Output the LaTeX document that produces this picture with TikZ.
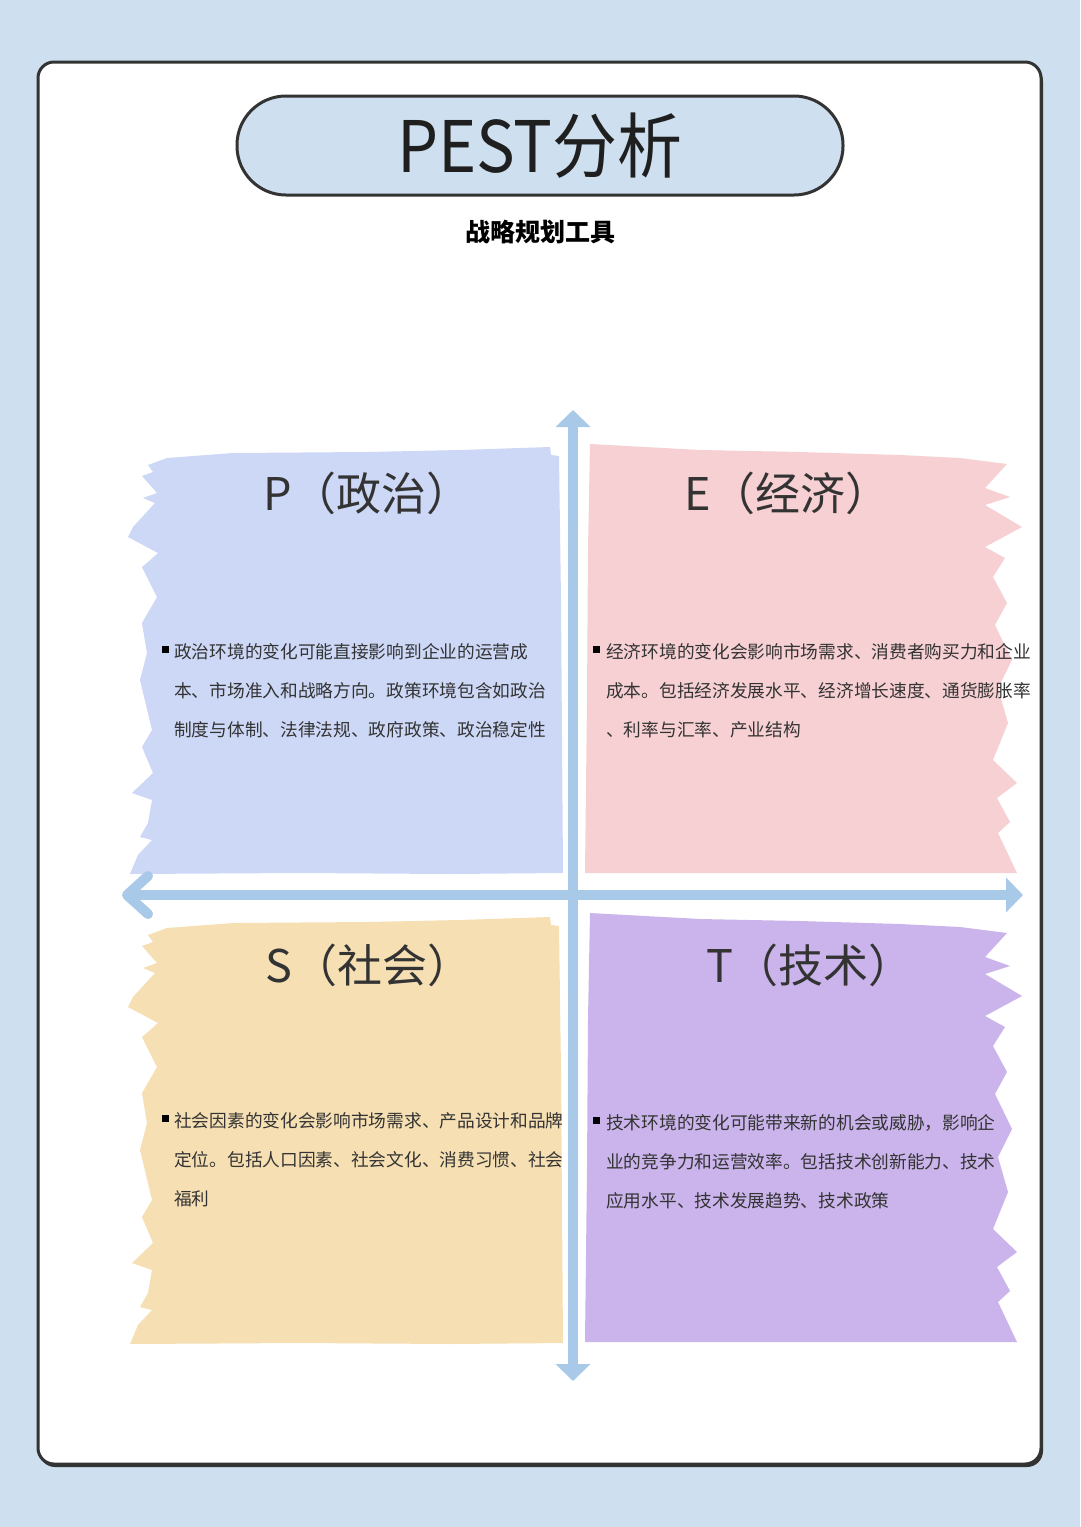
\documentclass[tikz,border=0pt]{standalone}
\usepackage{fontspec}
\usepackage{graphicx}
\setmainfont{Noto Sans CJK SC}
\usetikzlibrary{arrows.meta}

\definecolor{pagebg}{HTML}{CEDFEF}
\definecolor{framegray}{HTML}{333333}
\definecolor{inkgray}{HTML}{333333}
\definecolor{axisblue}{HTML}{A9C9E9}
\definecolor{polblue}{HTML}{CDD8F7}
\definecolor{ecopink}{HTML}{F6D0D3}
\definecolor{socyellow}{HTML}{F6E0B3}
\definecolor{techpurple}{HTML}{CAB4EB}

\begin{document}
\begin{tikzpicture}[x=1pt,y=-1pt,
  axis/.style={line width=10pt, draw=axisblue},
  heading/.style={anchor=base west, inner sep=0pt, text=inkgray, font=\fontsize{45pt}{54pt}\selectfont},
  body/.style={anchor=north west, inner sep=0pt, align=left, text=inkgray, font=\fontsize{17.7pt}{39pt}\selectfont},
  bulletbox/.style={fill=black, minimum size=7pt, inner sep=0pt}]

\useasboundingbox (0,0) rectangle (1080,1527);
\fill[pagebg] (0,0) rectangle (1080,1527);

\fill[framegray, rounded corners=16pt] (39,65) rectangle (1043,1467);
\draw[line width=3pt, draw=framegray, fill=white, rounded corners=16pt] (38,62) rectangle (1041,1464);

\node[draw=framegray, line width=3pt, fill=pagebg, rounded corners=49pt, minimum width=606pt, minimum height=99pt, text=black!88, font=\fontsize{71pt}{80pt}\selectfont] (title) at (540,145.5) {\scalebox{0.915}[1]{PEST分析}};
\node[anchor=base, text=black, font=\bfseries\fontsize{25pt}{30pt}\selectfont] (subtitle) at (540,241) {战略规划工具};

% P
\fill[polblue] plot[sharp cycle] coordinates {(148,465) (167,458) (233,453) (367,452) (460,450) (550,447) (551,455) (559,456) (561,600) (563,873) (450,874) (300,873) (130,874) (138,855) (152,840) (140,837) (148,823) (152,800) (132,793) (153,773) (142,747) (152,730) (140,680) (147,653) (142,623) (157,597) (142,567) (148,562) (158,553) (128,537) (133,527) (155,503) (143,498) (157,493) (142,476) (153,472) };
% E
\fill[ecopink] plot[sharp cycle] coordinates {(590,444) (700,450) (800,452) (900,455) (960,458) (1007,464) (985,488) (1010,497) (985,505) (1022,527) (985,547) (1005,558) (993,577) (1007,603) (995,625) (1012,660) (998,688) (1008,723) (993,760) (1017,783) (997,798) (1010,822) (998,833) (1017,873) (800,873) (585,873) (587,700) (588,550) };
% S
\fill[socyellow, yshift=-470pt] plot[sharp cycle] coordinates {(148,465) (167,458) (233,453) (367,452) (460,450) (550,447) (551,455) (559,456) (561,600) (563,873) (450,874) (300,873) (130,874) (138,855) (152,840) (140,837) (148,823) (152,800) (132,793) (153,773) (142,747) (152,730) (140,680) (147,653) (142,623) (157,597) (142,567) (148,562) (158,553) (128,537) (133,527) (155,503) (143,498) (157,493) (142,476) (153,472) };
% T
\fill[techpurple, yshift=-469pt] plot[sharp cycle] coordinates {(590,444) (700,450) (800,452) (900,455) (960,458) (1007,464) (985,488) (1010,497) (985,505) (1022,527) (985,547) (1005,558) (993,577) (1007,603) (995,625) (1012,660) (998,688) (1008,723) (993,760) (1017,783) (997,798) (1010,822) (998,833) (1017,873) (800,873) (585,873) (587,700) (588,550) };

\coordinate (ytop) at (573,410);
\coordinate (ybot) at (573,1381);
\coordinate (xleft) at (127,895);
\coordinate (xright) at (1023,895);

\draw[axis, {Triangle[length=17pt,width=34pt]}-{Triangle[length=17pt,width=34pt]}] (ybot) -- (ytop);
\draw[axis, -{Triangle[length=17pt,width=34pt]}] (xleft) -- (xright);
\draw[axis, line cap=round, line join=round] (xleft) ++(21,-19) -- (xleft) -- ++(21,19);

\node[heading] (Phead) at (263,510) {P（政治）};
\node[heading] (Ehead) at (684,510) {E（经济）};
\node[heading] (Shead) at (265,982) {S（社会）};
\node[heading] (Thead) at (706,982) {T（技术）};

\node[bulletbox] (Pdot) at (165,649) {};
\node[body] (Ptext) at (174,643) {政治环境的变化可能直接影响到企业的运营成\\本、市场准入和战略方向。政策环境包含如政治\\制度与体制、法律法规、政府政策、政治稳定性};

\node[bulletbox] (Edot) at (596,649) {};
\node[body] (Etext) at (606,643) {经济环境的变化会影响市场需求、消费者购买力和企业\\成本。包括经济发展水平、经济增长速度、通货膨胀率\\、利率与汇率、产业结构};

\node[bulletbox] (Sdot) at (165,1118) {};
\node[body] (Stext) at (174,1112) {社会因素的变化会影响市场需求、产品设计和品牌\\定位。包括人口因素、社会文化、消费习惯、社会\\福利};

\node[bulletbox] (Tdot) at (596,1120) {};
\node[body] (Ttext) at (606,1114) {技术环境的变化可能带来新的机会或威胁，影响企\\业的竞争力和运营效率。包括技术创新能力、技术\\应用水平、技术发展趋势、技术政策};
\end{tikzpicture}
\end{document}
